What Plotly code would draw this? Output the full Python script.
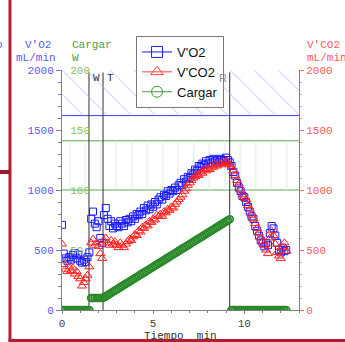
import plotly.graph_objects as go

# --- data -------------------------------------------------------------
tiempo_min = [
    0.0, 0.1, 0.2, 0.3, 0.4, 0.5, 0.6, 0.7, 0.8, 0.9,
    1.0, 1.1, 1.2, 1.3, 1.4, 1.5, 1.6, 1.7, 1.8, 1.9,
    2.0, 2.1, 2.2, 2.3, 2.4, 2.5, 2.6, 2.7, 2.8, 2.9,
    3.0, 3.1, 3.2, 3.3, 3.4, 3.5, 3.6, 3.7, 3.8, 3.9,
    4.0, 4.1, 4.2, 4.3, 4.4, 4.5, 4.6, 4.7, 4.8, 4.9,
    5.0, 5.1, 5.2, 5.3, 5.4, 5.5, 5.6, 5.7, 5.8, 5.9,
    6.0, 6.1, 6.2, 6.3, 6.4, 6.5, 6.6, 6.7, 6.8, 6.9,
    7.0, 7.1, 7.2, 7.3, 7.4, 7.5, 7.6, 7.7, 7.8, 7.9,
    8.0, 8.1, 8.2, 8.3, 8.4, 8.5, 8.6, 8.7, 8.8, 8.9,
    9.0, 9.1, 9.2, 9.3, 9.4, 9.5, 9.6, 9.7, 9.8, 9.9,
    10.0, 10.1, 10.2, 10.3, 10.4, 10.5, 10.6, 10.7, 10.8, 10.9,
    11.0, 11.1, 11.2, 11.3, 11.4, 11.5, 11.6, 11.7, 11.8, 11.9,
    12.0, 12.1, 12.2, 12.3,
]

vo2_ml_min = [
    710, 470, 430, 410, 440, 420, 460, 475, 430, 460,
    410, 395, 420, 400, 440, 480, 760, 820, 720, 690,
    740, 600, 560, 790, 850, 760, 700, 740, 680, 720,
    700, 690, 740, 720, 700, 750, 730, 760, 740, 780,
    760, 800, 790, 820, 800, 850, 830, 870, 840, 880,
    860, 900, 880, 920, 940, 920, 960, 950, 990, 970,
    1000, 990, 1020, 1000, 1040, 1060, 1040, 1090, 1070, 1110,
    1100, 1140, 1130, 1170, 1160, 1200, 1190, 1220, 1210, 1240,
    1220, 1250, 1230, 1260, 1240, 1250, 1230, 1260, 1250, 1240,
    1270, 1250, 1230, 1200, 1150, 1120, 1060, 1020, 990, 950,
    940, 900, 860, 820, 780, 760, 700, 660, 620, 580,
    560, 530, 560, 540, 640, 700, 680, 620, 560, 500,
    480, 520, 490, 500,
]

vco2_ml_min = [
    550, 380, 340, 320, 360, 330, 350, 300, 320, 280,
    260, 200, 230, 260, 290, 360, 560, 590, 540, 560,
    530, 470, 430, 580, 600, 560, 540, 580, 550, 570,
    540, 520, 560, 540, 520, 550, 570, 590, 580, 610,
    630, 620, 660, 650, 690, 680, 710, 700, 740, 730,
    760, 750, 790, 780, 800, 780, 820, 810, 840, 830,
    860, 850, 880, 900, 920, 940, 960, 990, 1010, 1040,
    1060, 1080, 1100, 1110, 1130, 1120, 1150, 1140, 1170, 1160,
    1180, 1170, 1200, 1190, 1210, 1200, 1220, 1210, 1230, 1220,
    1240, 1230, 1210, 1190, 1160, 1120, 1080, 1050, 1000, 960,
    940, 920, 870, 840, 790, 760, 720, 680, 640, 600,
    570, 540, 500, 470, 600, 660, 620, 550, 480, 450,
    430, 520, 560, 490,
]

cargar_w = [
    0, 0, 0, 0, 0, 0, 0, 0, 0, 0,
    0, 0, 0, 0, 0, 0, 10, 10, 10, 10,
    10, 10, 10, 10.5, 11.4, 12.4, 13.3, 14.2, 15.2, 16.1,
    17.1, 18.0, 19.0, 19.9, 20.9, 21.8, 22.7, 23.7, 24.6, 25.6,
    26.5, 27.5, 28.4, 29.4, 30.3, 31.2, 32.2, 33.1, 34.1, 35.0,
    36.0, 36.9, 37.8, 38.8, 39.7, 40.7, 41.6, 42.6, 43.5, 44.5,
    45.4, 46.3, 47.3, 48.2, 49.2, 50.1, 51.1, 52.0, 52.9, 53.9,
    54.8, 55.8, 56.7, 57.7, 58.6, 59.6, 60.5, 61.4, 62.4, 63.3,
    64.3, 65.2, 66.2, 67.1, 68.1, 69.0, 69.9, 70.9, 71.8, 72.8,
    73.7, 74.7, 75.6, 0, 0, 0, 0, 0, 0, 0,
    0, 0, 0, 0, 0, 0, 0, 0, 0, 0,
    0, 0, 0, 0, 0, 0, 0, 0, 0, 0,
    0, 0, 0, 0,
]

# phase markers (min): warm-up, test start, recovery
fase_labels = ["W", "T", "R"]
fase_tiempos = [1.48, 2.25, 9.2]

# reference bands (mL/min)
banda_hatch = [1620, 2000]
banda_verde = [1000, 1410]

x_ticks = [0, 5, 10]
y_ticks = [0, 500, 1000, 1500, 2000]
carga_ticks = [50, 100, 150, 200]

X_MAX = 13

# --- styling -----------------------------------------------------------
MONO = "Liberation Mono"
SANS = "Liberation Sans"
BLUE = "#1a1aff"
RED = "#ff2020"
GREEN = "#2a8a2a"
AXIS_GRAY = "#808080"
BLUE_TXT = "#5a5af2"
RED_TXT = "#ff5a5a"
GREEN_TXT = "#8cbf60"
GREEN_TITLE = "#4ea044"

fig = go.Figure()

# hatched band (upper) and vertically striped band
fig.add_trace(go.Scatter(
    x=[0, X_MAX, X_MAX, 0, 0],
    y=[banda_hatch[0], banda_hatch[0], banda_hatch[1], banda_hatch[1], banda_hatch[0]],
    mode="none", fill="toself", fillcolor="rgba(255,255,255,0)",
    fillpattern=dict(shape="\\", fgcolor="#aab2f2", bgcolor="rgba(255,255,255,0)",
                     size=17, solidity=0.07),
    hoverinfo="skip", showlegend=False,
))
fig.add_trace(go.Scatter(
    x=[0, X_MAX, X_MAX, 0, 0],
    y=[banda_verde[0], banda_verde[0], banda_verde[1], banda_verde[1], banda_verde[0]],
    mode="none", fill="toself", fillcolor="rgba(255,255,255,0)",
    fillpattern=dict(shape="|", fgcolor="#d6ebd6", bgcolor="rgba(255,255,255,0)",
                     size=15.5, solidity=0.13),
    hoverinfo="skip", showlegend=False,
))

# measured series
fig.add_trace(go.Scatter(
    x=tiempo_min, y=vo2_ml_min, mode="markers", yaxis="y",
    marker=dict(symbol="square-open", size=7, color=BLUE, line=dict(width=1)),
    showlegend=False,
))
fig.add_trace(go.Scatter(
    x=tiempo_min, y=cargar_w, mode="markers", yaxis="y2",
    marker=dict(symbol="circle-open", size=7, color=GREEN, line=dict(width=1.7)),
    showlegend=False,
))
fig.add_trace(go.Scatter(
    x=tiempo_min, y=vco2_ml_min, mode="markers", yaxis="y3",
    marker=dict(symbol="triangle-up-open", size=8, color=RED, line=dict(width=1)),
    showlegend=False,
))

# legend entries
for name, sym, col in [("V'O2", "square-open", BLUE),
                       ("V'CO2", "triangle-up-open", "#ff4040"),
                       ("Cargar", "circle-open", "#3c9a3c")]:
    fig.add_trace(go.Scatter(
        x=[None], y=[None], mode="lines+markers", name=name,
        line=dict(color=col, width=1),
        marker=dict(symbol=sym, size=11, color=col, line=dict(width=1)),
    ))

shapes = []
# band boundary lines
shapes.append(dict(type="line", xref="paper", yref="y", x0=0, x1=1,
                   y0=banda_hatch[0], y1=banda_hatch[0],
                   line=dict(color="#3a3aee", width=1), layer="below"))
for v in banda_verde:
    shapes.append(dict(type="line", xref="paper", yref="y", x0=0, x1=1,
                       y0=v, y1=v, line=dict(color="#58a858", width=1), layer="below"))
# phase lines
for t in fase_tiempos:
    shapes.append(dict(type="line", xref="x", yref="paper", x0=t, x1=t,
                       y0=0, y1=0.99, line=dict(color="#303030", width=1), layer="below"))

# outer frame pieces
FRAME = "#ad1f33"
shapes.append(dict(type="line", xref="paper", yref="paper",
                   x0=-0.2195, x1=-0.2195, y0=-0.128, y1=1.30,
                   line=dict(color=FRAME, width=3)))
shapes.append(dict(type="line", xref="paper", yref="paper",
                   x0=-0.226, x1=1.2, y0=-0.1271, y1=-0.1271,
                   line=dict(color=FRAME, width=3)))
shapes.append(dict(type="line", xref="paper", yref="paper",
                   x0=-0.27, x1=-0.2195, y0=0.575, y1=0.575,
                   line=dict(color="#a01830", width=4)))

annotations = []


def ann(text, x, y, color, xanchor="left", xref="paper", size=11, family=MONO, xshift=0):
    annotations.append(dict(text=text, x=x, y=y, xref=xref, yref="paper",
                            xanchor=xanchor, yanchor="middle", showarrow=False,
                            xshift=xshift,
                            font=dict(family=family, size=size, color=color)))


def px_x(p):
    return (p - 62) / 240.0


def px_y(p):
    return (310 - p) / 240.0


# axis headings
ann("V'O2", px_x(53), px_y(45), BLUE_TXT, xanchor="right")
ann("mL/min", px_x(58), px_y(57.5), BLUE_TXT, xanchor="right")
ann("o", px_x(4), px_y(45), BLUE_TXT, xanchor="right")
ann("Cargar", px_x(70), px_y(45), GREEN_TITLE)
ann("W", px_x(70), px_y(57.5), GREEN_TITLE)
ann("V'CO2", px_x(308), px_y(45), RED_TXT)
ann("mL/min", px_x(308), px_y(57.5), RED_TXT)
ann("Tiempo\u00a0 min", 0.5, px_y(335.5), "#333333", xanchor="center")

# phase labels
ann(fase_labels[0], fase_tiempos[0], px_y(77.5), "#333333", xref="x", xshift=2)
ann(fase_labels[1], fase_tiempos[1], px_y(77.5), "#333333", xref="x", xshift=2)
ann(fase_labels[2], fase_tiempos[2], px_y(78), "#8a8a8a", xanchor="right", xref="x",
    family=SANS, size=11, xshift=-1)

fig.update_layout(
    width=345, height=342, autosize=False,
    margin=dict(l=62, r=43, t=70, b=32, pad=0),
    paper_bgcolor="white", plot_bgcolor="white",
    showlegend=True,
    legend=dict(x=px_x(137), y=px_y(36), xanchor="left", yanchor="top",
                bgcolor="white", bordercolor="#7a7a7a", borderwidth=1,
                font=dict(family=SANS, size=13, color="#111111"),
                tracegroupgap=0, itemwidth=30),
    xaxis=dict(range=[0, X_MAX], tickmode="array", tickvals=x_ticks,
               ticktext=[str(v) for v in x_ticks],
               ticks="outside", ticklen=3, tickcolor=AXIS_GRAY,
               minor=dict(dtick=1, ticks="outside", ticklen=2, tickcolor=AXIS_GRAY),
               showline=True, linecolor=AXIS_GRAY, linewidth=1,
               showgrid=False, zeroline=False,
               tickfont=dict(family=MONO, size=11, color="#444444")),
    yaxis=dict(range=[0, 2000], tickmode="array", tickvals=y_ticks,
               ticks="outside", ticklen=5, tickcolor="#7a7ab0",
               minor=dict(dtick=100, ticks="outside", ticklen=3, tickcolor="#7a7ab0"),
               showline=True, linecolor=AXIS_GRAY, linewidth=1,
               showgrid=False, zeroline=False,
               tickfont=dict(family=MONO, size=11, color=BLUE_TXT)),
    # load axis: labels sit just right of the left edge, inside the plot
    yaxis2=dict(range=[0, 200], overlaying="y", side="right", anchor="free",
                position=0, autoshift=False,
                tickmode="array", tickvals=carga_ticks,
                ticks="outside", ticklen=5, tickcolor="rgba(0,0,0,0)",
                showline=False, showgrid=False, zeroline=False,
                tickfont=dict(family=MONO, size=11, color=GREEN_TXT)),
    yaxis3=dict(range=[0, 2000], overlaying="y", side="right", anchor="x",
                tickmode="array", tickvals=y_ticks,
                ticks="outside", ticklen=4, tickcolor="#ff6a6a",
                minor=dict(dtick=100, ticks="outside", ticklen=2, tickcolor="#ff9a9a"),
                showline=True, linecolor=AXIS_GRAY, linewidth=1,
                showgrid=False, zeroline=False,
                tickfont=dict(family=MONO, size=11, color=RED_TXT)),
    shapes=shapes,
    annotations=annotations,
)

fig.write_html("out.html")
